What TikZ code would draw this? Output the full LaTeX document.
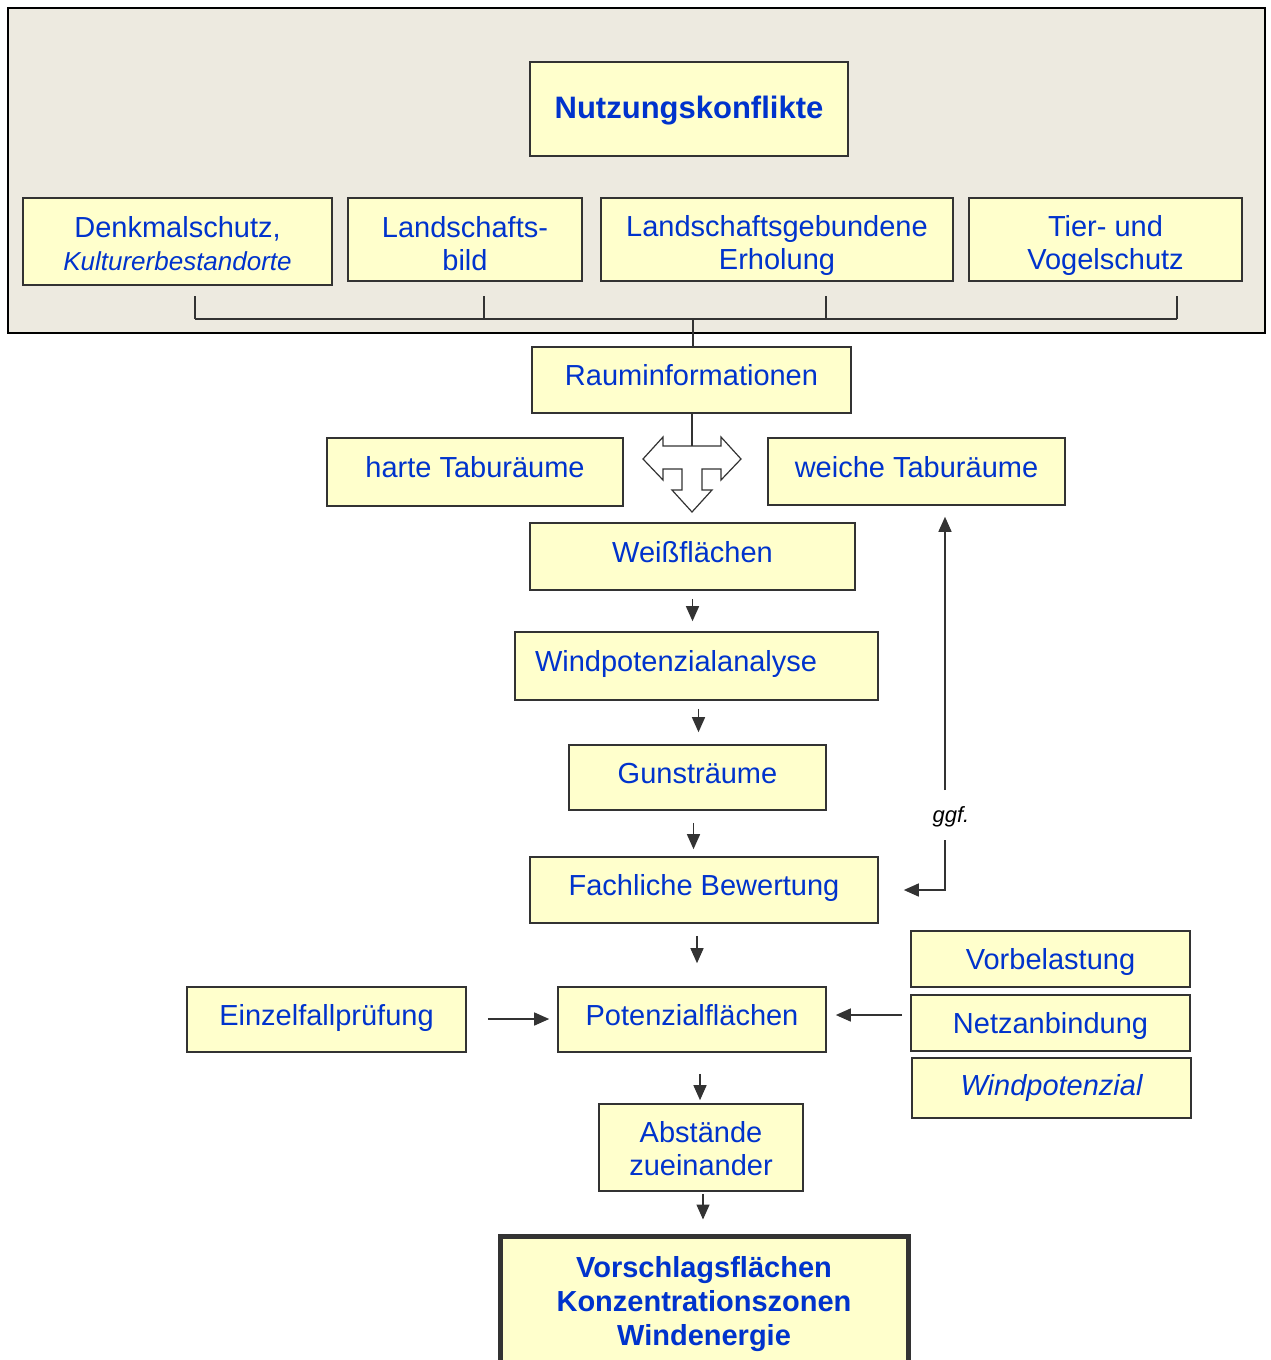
\documentclass[tikz,border=0pt]{standalone}
\usepackage{fontspec}
\setmainfont{Liberation Sans}
\usepackage{xcolor}
\usepackage{tikz}
\usetikzlibrary{calc,positioning,arrows.meta}
\definecolor{bgbeige}{HTML}{EDEAE0}
\definecolor{boxyellow}{HTML}{FFFFCC}
\definecolor{txtblue}{HTML}{0033CC}
\definecolor{linegray}{HTML}{333333}
\newcommand{\toplift}[1]{\rule{0pt}{#1}}
\tikzset{
	box/.style={draw=linegray,line width=1.6pt,fill=boxyellow,text=txtblue,font=\fontsize{29}{33}\selectfont,inner sep=0pt},
	single/.style={text height=21pt,text depth=10pt},
	arr/.style={draw=linegray,line width=1.4pt,-{Triangle[width=13pt,length=15pt]}},
	tick/.style={draw=linegray,line width=1.4pt},
}
\begin{document}
\begin{tikzpicture}[x=1pt,y=-1pt]
	\useasboundingbox (0,0) rectangle (1271,1360);
	\draw[fill=bgbeige,line width=1.6pt] (8,8) rectangle (1265,333);
	\node[box,minimum width=318pt,minimum height=94pt,font=\fontsize{31}{35}\selectfont\bfseries] (konflikt) at (689,109) {\toplift{26pt}Nutzungskonflikte};
	\node[box,align=center,minimum width=309pt,minimum height=87pt] (denkmal) at (177.5,241.5) {\toplift{25pt}Denkmalschutz,\\{\fontsize{26}{33}\selectfont\itshape Kulturerbestandorte}};
	\node[box,align=center,minimum width=234pt,minimum height=83pt] (bild) at (465,239.5) {\toplift{29pt}Landschafts-\\bild};
	\node[box,align=center,minimum width=352pt,minimum height=83pt] (erholung) at (777,239.5) {\toplift{34pt}Landschaftsgebundene\\Erholung};
	\node[box,align=center,minimum width=273pt,minimum height=83pt] (vogel) at (1105.5,239.5) {\toplift{34pt}Tier- und\\Vogelschutz};
	\foreach \x in {195,484,826,1177}
	\draw[tick] (\x,296) -- (\x,319);
	\draw[tick] (195,319) -- (1177,319);
	\coordinate (sammel) at (693,319);
	\node[box,single,minimum width=319pt,minimum height=66pt] (raum) at (691.5,380) {Rauminformationen};
	\draw[tick] (sammel) -- (sammel |- raum.north);
	\node[box,single,minimum width=296pt,minimum height=68pt] (hart) at (475,472) {harte Taburäume};
	\node[box,single,minimum width=297pt,minimum height=67pt] (weich) at (916.5,471.5) {weiche Taburäume};
	\coordinate (tarr) at (692,459);
	\draw[tick] (tarr |- raum.south) -- (tarr |- 0,446);
	\begin{scope}[shift={(tarr)}]
		\draw[draw=linegray,line width=1.2pt,fill=white,line join=miter]
		(-29,-22) -- (-29,-13) -- (29,-13) -- (29,-22) -- (49,0) -- (29,21) -- (29,10) -- (10,10) -- (10,31) -- (20,31) -- (0,53) -- (-20,31) -- (-10,31) -- (-10,10) -- (-29,10) -- (-29,21) -- (-49,0) -- cycle;
	\end{scope}
	\node[box,single,minimum width=325pt,minimum height=67pt] (weiss) at (692.5,556.5) {Weißflächen};
	\node[box,single,text width=323pt,align=left,inner xsep=20pt,minimum height=68pt] (analyse) at (696.5,666) {Windpotenzialanalyse};
	\node[box,single,minimum width=257pt,minimum height=65pt] (gunst) at (697.5,777.5) {Gunsträume};
	\node[box,single,minimum width=348pt,minimum height=66pt] (bewertung) at (704,890) {Fachliche Bewertung};
	\node[box,single,minimum width=268pt,minimum height=65pt] (potenzial) at (692,1019.5) {Potenzialflächen};
	\node[box,single,minimum width=279pt,minimum height=65pt] (einzel) at (326.5,1019.5) {Einzelfallprüfung};
	\node[box,minimum width=279pt,minimum height=56pt] (vorbel) at (1050.5,959) {\toplift{26pt}Vorbelastung};
	\node[box,minimum width=279pt,minimum height=56pt] (netz) at (1050.5,1023) {\toplift{26pt}Netzanbindung};
	\node[box,minimum width=279pt,minimum height=60pt,font=\fontsize{29}{33}\selectfont\itshape] (windpot) at (1051.5,1088) {Windpotenzial};
	\node[box,align=center,minimum width=204pt,minimum height=87pt] (abstand) at (701,1147.5) {\toplift{23pt}Abstände\\zueinander};
	\node[box,align=center,line width=5pt,minimum width=408pt,minimum height=129pt,font=\fontsize{29}{34}\selectfont\bfseries] (vorschlag) at (704,1300.5) {\toplift{28pt}Vorschlagsflächen\\Konzentrationszonen\\Windenergie};
	\draw[arr,shorten <=8pt,shorten >=10pt] (weiss.south) -- (weiss.south |- analyse.north);
	\draw[arr,shorten <=8pt,shorten >=12pt] ([xshift=2pt]analyse.south) -- ([xshift=2pt]analyse.south |- gunst.north);
	\draw[arr,shorten <=12pt,shorten >=7pt] ([xshift=-4pt]gunst.south) -- ([xshift=-4pt]gunst.south |- bewertung.north);
	\draw[arr,shorten <=12pt,shorten >=23pt] ([xshift=-7pt]bewertung.south) -- ([xshift=-7pt]bewertung.south |- potenzial.north);
	\draw[arr,shorten <=21pt,shorten >=3pt] ([xshift=8pt]potenzial.south) -- ([xshift=8pt]potenzial.south |- abstand.north);
	\draw[arr,shorten <=2pt,shorten >=14pt] ([xshift=2pt]abstand.south) -- ([xshift=2pt]abstand.south |- vorschlag.north);
	\draw[arr,shorten <=21pt,shorten >=8pt] ([yshift=0.5pt]einzel.east) -- ([yshift=0.5pt]potenzial.west);
	\draw[arr,shorten <=8pt,shorten >=9pt] (netz.west |- 0,1015) -- (potenzial.east |- 0,1015);
	\node[font=\fontsize{22}{26}\selectfont\itshape] (ggf) at (951,817) {ggf.};
	\coordinate (gx) at (945,817);
	\draw[arr,shorten >=11pt] ([yshift=27pt]gx) -- (gx |- weich.south);
	\draw[arr,shorten >=25pt] ([yshift=-23pt]gx) |- (bewertung.east);
\end{tikzpicture}
\end{document}
